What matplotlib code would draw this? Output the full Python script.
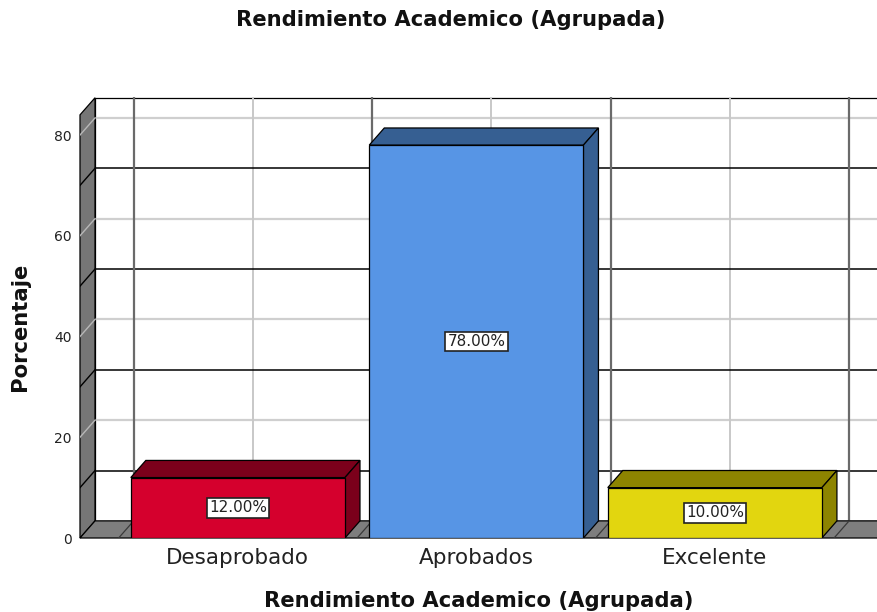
import matplotlib
matplotlib.use('Agg')
import matplotlib.pyplot as plt
from matplotlib.patches import Polygon, Rectangle

categories = ['Desaprobado', 'Aprobados', 'Excelente']
percentages = [12.0, 78.0, 10.0]
value_labels = ['12.00%', '78.00%', '10.00%']
y_ticks = [0, 20, 40, 60, 80]
grid_dark = [10, 30, 50, 70]
grid_light = [20, 40, 60, 80]

front_colors = ['#d5002d', '#5795e5', '#e2d60f']
side_colors = ['#7b001b', '#365f92', '#8d8400']

# 3D look: depth offset in data units, wall height, bar half width
DX, DY = 0.063, 3.4
WALL_TOP = 84.0
HALF = 0.449
XL, XR = -0.662, 2.68
YTOP = 87.55

fig = plt.figure(figsize=(8.77, 6.12), dpi=100)
ax = fig.add_axes([80 / 877, 74 / 612, 797 / 877, 441 / 612])
ax.set_xlim(XL, XR)
ax.set_ylim(0, YTOP)
for s in ax.spines.values():
    s.set_visible(False)

edge = dict(edgecolor='black', linewidth=0.9, joinstyle='miter')

# back wall
ax.add_patch(Rectangle((XL + DX, DY), XR - XL, WALL_TOP, facecolor='white',
                       zorder=1, clip_on=False, **edge))
# left wall
ax.add_patch(Polygon([(XL, 0), (XL + DX, DY), (XL + DX, WALL_TOP + DY), (XL, WALL_TOP)],
                     facecolor='#767676', zorder=2, clip_on=False, **edge))
# floor
ax.add_patch(Polygon([(XL, 0), (XR + 1, 0), (XR + 1 + DX, DY), (XL + DX, DY)],
                     facecolor='#7e7e7e', zorder=2, clip_on=False, **edge))

# gridlines on back wall and left wall
for v in grid_light:
    ax.plot([XL + DX, XR + 1], [v + DY, v + DY], color='#cfcfcf', lw=1.6, zorder=1.5, clip_on=False)
    ax.plot([XL, XL + DX], [v, v + DY], color='#b8b8b8', lw=1.0, zorder=3)
for v in grid_dark:
    ax.plot([XL + DX, XR + 1], [v + DY, v + DY], color='black', lw=1.1, zorder=1.6, clip_on=False)
    ax.plot([XL, XL + DX], [v, v + DY], color='black', lw=1.0, zorder=3)

bounds = [i - 0.5 for i in range(len(categories) + 1)]
centers = list(range(len(categories)))
for x in bounds:
    ax.plot([x + DX, x + DX], [DY, WALL_TOP + DY], color='#6a6a6a', lw=1.6, zorder=1.7)
    ax.plot([x, x + DX], [0, DY], color='#3a3a3a', lw=0.9, zorder=3)
for x in centers:
    ax.plot([x + DX, x + DX], [DY, WALL_TOP + DY], color='#c8c8c8', lw=1.4, zorder=1.5)
    ax.plot([x, x + DX], [0, DY], color='#3a3a3a', lw=0.9, zorder=3)

# 3D bars
for i, (v, fc, sc, lab) in enumerate(zip(percentages, front_colors, side_colors, value_labels)):
    x0, x1 = i - HALF, i + HALF
    ax.add_patch(Polygon([(x0, v), (x1, v), (x1 + DX, v + DY), (x0 + DX, v + DY)],
                         facecolor=sc, zorder=5, **edge))
    ax.add_patch(Polygon([(x1, 0), (x1 + DX, DY), (x1 + DX, v + DY), (x1, v)],
                         facecolor=sc, zorder=5, **edge))
    ax.add_patch(Rectangle((x0, 0), x1 - x0, v, facecolor=fc, zorder=6, **edge))
    ax.text(i, v / 2, lab, ha='center', va='center', fontsize=11, color='#222222', zorder=7,
            bbox=dict(boxstyle='square,pad=0.15', facecolor='white', edgecolor='#222222', linewidth=1.2))

ax.set_yticks(y_ticks)
ax.set_yticklabels([str(t) for t in y_ticks], fontsize=10, color='#222222')
ax.set_xticks(centers)
ax.set_xticklabels(categories, fontsize=15.5, color='#222222')
ax.tick_params(axis='both', length=0)
ax.tick_params(axis='y', pad=6)
ax.tick_params(axis='x', pad=7)

ax.set_xlabel('Rendimiento Academico (Agrupada)', fontsize=15.2, fontweight='bold',
              color='#111111', labelpad=17)
ax.set_ylabel('Porcentaje', fontsize=15.2, fontweight='bold', color='#111111')
ax.yaxis.set_label_coords(-60 / 797, (538 - 327) / 441)
ax.yaxis.label.set_va('center')
fig.suptitle('Rendimiento Academico (Agrupada)', fontsize=15.2, fontweight='bold', color='#111111',
             x=451 / 877, y=1 - 20 / 612, va='center')

fig.savefig('out.png', dpi=100)
